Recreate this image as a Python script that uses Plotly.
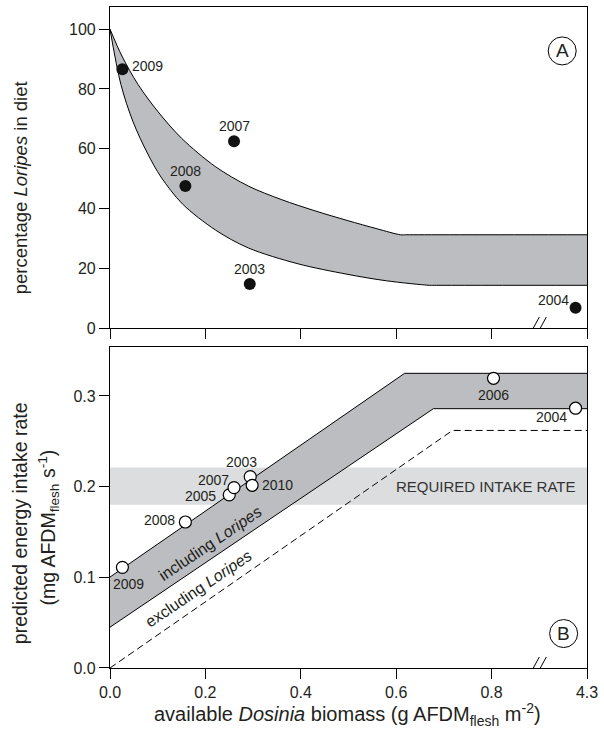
import plotly.graph_objects as go

# ---------------- data ----------------
# x positions are on the broken display axis (tick "4.3" sits at position 1.0)
tick_vals = [0.0, 0.2, 0.4, 0.6, 0.8, 1.0]
tick_text = ["0.0", "0.2", "0.4", "0.6", "0.8", "4.3"]

# Panel A: percentage Loripes in diet
yearsA = ["2009", "2008", "2007", "2003", "2004"]
xA = [0.026, 0.158, 0.260, 0.293, 0.976]
yA = [86.6, 47.5, 62.5, 14.7, 6.8]

bandA_upper_x = [0.0, 0.025, 0.0587, 0.10, 0.15, 0.221, 0.290, 0.359, 0.43, 0.497, 0.56, 0.609, 0.622, 1.0]
bandA_upper_y = [100, 91.0, 81.5, 72.5, 63.5, 54.0, 47.5, 43.0, 39.2, 36.0, 33.2, 31.2, 31.2, 31.2]
bandA_lower_x = [0.0, 0.0228, 0.0483, 0.0794, 0.107, 0.152, 0.221, 0.290, 0.394, 0.497, 0.58, 0.670, 0.684, 1.0]
bandA_lower_y = [100, 81.5, 69.0, 58.2, 50.5, 41.5, 32.8, 26.8, 21.5, 18.0, 15.8, 14.3, 14.3, 14.3]

# Panel B: predicted energy intake rate
yearsB = ["2009", "2008", "2005", "2007", "2003", "2010", "2006", "2004"]
xB = [0.026, 0.158, 0.250, 0.260, 0.294, 0.298, 0.804, 0.976]
yB = [0.111, 0.161, 0.191, 0.199, 0.211, 0.2015, 0.3195, 0.2865]

incl_upper_x = [0.0, 0.6176, 1.0]
incl_upper_y = [0.1003, 0.325, 0.325]
incl_lower_x = [0.0, 0.678, 1.0]
incl_lower_y = [0.045, 0.286, 0.286]
excl_x = [0.0, 0.718, 1.0]
excl_y = [0.0, 0.262, 0.262]
required_rate = [0.18, 0.221]

# ---------------- style ----------------
FONT = "Liberation Sans, Arial, sans-serif"
NARROW = "Liberation Sans Narrow, Arial Narrow, Liberation Sans, Arial, sans-serif"
BAND = "#bcbdc0"
REQ = "#dcdddf"
TXT = "#231f20"

offA = {"2009": (25, 3), "2008": (0, 15), "2007": (0, 15), "2003": (0, 15), "2004": (-22, 8)}
offB = {"2009": (6, -17), "2008": (-26, 2), "2005": (-29, -1), "2007": (-21, 8),
        "2003": (-9, 15), "2010": (25, 0), "2006": (0, -17), "2004": (-24, -9)}

fig = go.Figure()

# Panel A band
fig.add_trace(go.Scatter(x=bandA_lower_x, y=bandA_lower_y, mode="lines",
                         line=dict(color="black", width=1, shape="spline", smoothing=0.9),
                         xaxis="x", yaxis="y", hoverinfo="skip", showlegend=False))
fig.add_trace(go.Scatter(x=bandA_upper_x, y=bandA_upper_y, mode="lines", fill="tonexty",
                         fillcolor=BAND,
                         line=dict(color="black", width=1, shape="spline", smoothing=0.9),
                         xaxis="x", yaxis="y", hoverinfo="skip", showlegend=False))
fig.add_trace(go.Scatter(x=xA, y=yA, mode="markers",
                         marker=dict(size=12, color="#111111"),
                         xaxis="x", yaxis="y", showlegend=False))

# Panel B band
fig.add_trace(go.Scatter(x=incl_lower_x, y=incl_lower_y, mode="lines",
                         line=dict(color="black", width=1),
                         xaxis="x2", yaxis="y2", hoverinfo="skip", showlegend=False))
fig.add_trace(go.Scatter(x=incl_upper_x, y=incl_upper_y, mode="lines", fill="tonexty",
                         fillcolor=BAND, line=dict(color="black", width=1),
                         xaxis="x2", yaxis="y2", hoverinfo="skip", showlegend=False))
fig.add_trace(go.Scatter(x=excl_x, y=excl_y, mode="lines",
                         line=dict(color="black", width=1, dash="7px,4px"),
                         xaxis="x2", yaxis="y2", hoverinfo="skip", showlegend=False))
fig.add_trace(go.Scatter(x=xB, y=yB, mode="markers",
                         marker=dict(size=12, color="white", line=dict(color="black", width=1.2)),
                         xaxis="x2", yaxis="y2", showlegend=False))

shapes = []
# required intake rate band
shapes.append(dict(type="rect", xref="x2", yref="y2", x0=0, x1=1.0,
                   y0=required_rate[0], y1=required_rate[1],
                   fillcolor=REQ, line=dict(width=0), layer="below"))

# axis-break marks
for xr, yr in (("x", "y"), ("x2", "y2")):
    for dx in (-6, 1):
        shapes.append(dict(type="line", xref=xr, yref=yr, xsizemode="pixel", ysizemode="pixel",
                           xanchor=0.9, yanchor=0, x0=dx - 6, x1=dx + 6, y0=-11, y1=11,
                           line=dict(color="black", width=1)))

# circled panel letters
for xr, yr, xc, yc in (("x", "y", 0.948, 92.7), ("x2", "y2", 0.951, 0.038)):
    shapes.append(dict(type="circle", xref=xr, yref=yr, xsizemode="pixel", ysizemode="pixel",
                       xanchor=xc, yanchor=yc, x0=-14, x1=14, y0=-14, y1=14,
                       line=dict(color="black", width=1), fillcolor="rgba(0,0,0,0)"))

annotations = []
for yr_, x_, y_ in zip(yearsA, xA, yA):
    dx, dy = offA[yr_]
    annotations.append(dict(x=x_, y=y_, xref="x", yref="y", text=yr_, showarrow=False,
                            xanchor="center", yanchor="middle",
                            xshift=dx, yshift=dy, font=dict(family=NARROW, size=14, color=TXT)))
for yr_, x_, y_ in zip(yearsB, xB, yB):
    dx, dy = offB[yr_]
    annotations.append(dict(x=x_, y=y_, xref="x2", yref="y2", text=yr_, showarrow=False,
                            xanchor="center", yanchor="middle",
                            xshift=dx, yshift=dy, font=dict(family=NARROW, size=14, color=TXT)))

annotations += [
    dict(x=0.948, y=92.7, xref="x", yref="y", text="A", showarrow=False,
         xanchor="center", yanchor="middle", font=dict(family=FONT, size=19, color=TXT)),
    dict(x=0.951, y=0.038, xref="x2", yref="y2", text="B", showarrow=False,
         xanchor="center", yanchor="middle", font=dict(family=FONT, size=19, color=TXT)),
    dict(x=0.978, y=0.2005, xref="x2", yref="y2", text="REQUIRED INTAKE RATE", showarrow=False,
         xanchor="right", yanchor="middle", font=dict(family=NARROW, size=15, color="#333333")),
    dict(x=0.2096, y=0.1377, xref="x2", yref="y2", text="including <i>Loripes</i>",
         showarrow=False, textangle=-34, xanchor="center", yanchor="middle",
         font=dict(family=FONT, size=16, color=TXT)),
    dict(x=0.186, y=0.088, xref="x2", yref="y2", text="excluding <i>Loripes</i>",
         showarrow=False, textangle=-34, xanchor="center", yanchor="middle",
         font=dict(family=FONT, size=16, color=TXT)),
    dict(x=-0.187, y=0.727, xref="paper", yref="paper", text="percentage <i>Loripes</i> in diet",
         showarrow=False, textangle=-90, xanchor="center", yanchor="middle",
         font=dict(family=FONT, size=18.5, color=TXT)),
    dict(x=-0.1888, y=0.219, xref="paper", yref="paper", text="predicted energy intake rate",
         showarrow=False, textangle=-90, xanchor="center", yanchor="middle",
         font=dict(family=FONT, size=19.5, color=TXT)),
    dict(x=-0.1286, y=0.212, xref="paper", yref="paper",
         text="(mg AFDM<sub>flesh</sub> s<sup>-1</sup>)",
         showarrow=False, textangle=-90, xanchor="center", yanchor="middle",
         font=dict(family=FONT, size=19.5, color=TXT)),
    dict(x=0.498, y=-0.0705, xref="paper", yref="paper",
         text="available <i>Dosinia</i> biomass (g AFDM<sub>flesh</sub> m<sup>-2</sup>)",
         showarrow=False, xanchor="center", yanchor="middle",
         font=dict(family=FONT, size=20, color=TXT)),
]

axis_common = dict(showline=True, linecolor="black", linewidth=1.2, mirror=True,
                   ticks="outside", ticklen=10, tickwidth=1, tickcolor="black",
                   showgrid=False, zeroline=False,
                   tickfont=dict(family=FONT, size=16, color=TXT))

fig.update_layout(
    width=604, height=735,
    margin=dict(l=110, r=12, t=6, b=67),
    plot_bgcolor="white", paper_bgcolor="white",
    showlegend=False,
    xaxis=dict(domain=[0, 1], anchor="y", range=[0, 1.0], tickvals=tick_vals,
               showticklabels=False, **axis_common),
    yaxis=dict(domain=[0.5143, 1.0], anchor="x", range=[0, 107.4],
               tickvals=[0, 20, 40, 60, 80, 100], **axis_common),
    xaxis2=dict(domain=[0, 1], anchor="y2", range=[0, 1.0], tickvals=tick_vals,
                ticktext=tick_text, **axis_common),
    yaxis2=dict(domain=[0, 0.4856], anchor="x2", range=[0, 0.354],
                tickvals=[0.0, 0.1, 0.2, 0.3], ticktext=["0.0", "0.1", "0.2", "0.3"],
                **axis_common),
    shapes=shapes,
    annotations=annotations,
)

fig.write_html("out.html", config={"displayModeBar": False},
               post_script="document.body.style.margin='0';document.body.style.overflow='hidden';")
